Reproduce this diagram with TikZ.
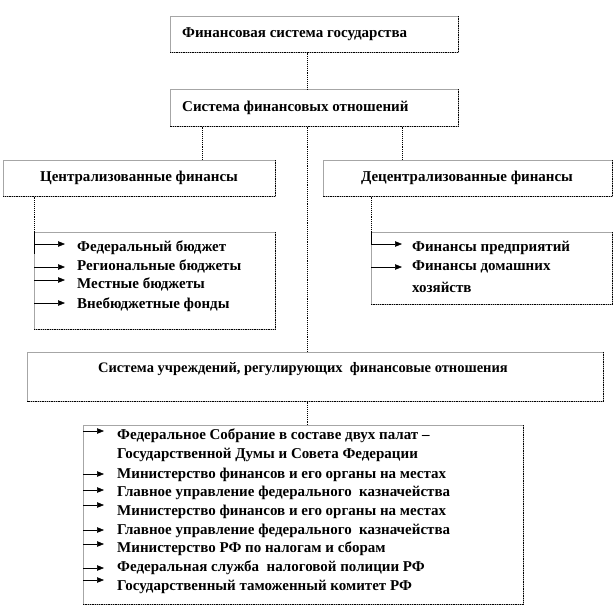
\documentclass[tikz,border=0pt]{standalone}
\usepackage{fontspec}
\setmainfont{Liberation Serif}
\usetikzlibrary{arrows.meta}
\begin{document}
\begin{tikzpicture}[x=1pt,y=-1pt,
  box/.style={draw=gray!70, line width=0.5pt, inner sep=0pt, anchor=north west},
  shadow/.style={line width=1.3pt, densely dotted},
  conn/.style={line width=0.9pt, densely dotted},
  arr/.style={line width=0.6pt, -{Triangle[length=7pt,width=5.5pt]}},
  lbl/.style={inner sep=0pt, font=\bfseries\fontsize{15}{18}\selectfont},
  txt/.style={lbl, anchor=west}]
\useasboundingbox (0,0) rectangle (614,616);
% boxes
\node[box, minimum width=288pt, minimum height=36pt] (top) at (170,16) {};
\node[box, minimum width=288pt, minimum height=37pt] (sys) at (170,89) {};
\node[box, minimum width=272pt, minimum height=36pt] (cent) at (3,160) {};
\node[box, minimum width=289pt, minimum height=36pt] (dec) at (323,160) {};
\node[box, minimum width=241pt, minimum height=97pt] (cl) at (34,232) {};
\node[box, minimum width=241pt, minimum height=72pt] (dl) at (371,232) {};
\node[box, minimum width=576pt, minimum height=49pt] (inst) at (27,352) {};
\node[box, minimum width=440pt, minimum height=179pt] (il) at (83,425) {};
\foreach \n in {top,sys,cent,dec,cl,dl,inst,il}
  \draw[shadow] (\n.north east) -- (\n.south east) -- (\n.south west);
\draw[line width=0.6pt] (cl.north west) -- ++(0,22);
\draw[line width=0.6pt] (dl.north west) -- ++(0,12);
% box texts
\node[txt] (topt) at (182,34) {Финансовая система государства};
\node[txt] (syst) at (182,108) {Система финансовых отношений};
\node[lbl] (centt) at (139,178) {Централизованные финансы};
\node[lbl] (dect) at (467,178) {Децентрализованные финансы};
\node[lbl, font=\bfseries\fontsize{14.5}{18}\selectfont] (instt) at (303,369) {Система учреждений, регулирующих~ финансовые отношения};
% connectors
\coordinate (xa) at (202,0);
\coordinate (xm) at (307,0);
\coordinate (xb) at (402,0);
\draw[conn] (top.south -| xm) -- (sys.north -| xm);
\draw[conn] (sys.south -| xa) -- (cent.north -| xa);
\draw[conn] (sys.south -| xb) -- (dec.north -| xb);
\draw[conn] (sys.south -| xm) -- (inst.north -| xm);
\draw[conn] (inst.south -| xm) -- (il.north -| xm);
\draw[conn] (cent.south -| cl.west) -- (cl.north west);
\draw[conn] (dec.south -| dl.west) -- (dl.north west);
% centralized list
\foreach \y in {244,267,280,303} \draw[arr] (cl.west |- 0,\y) -- ++(31,0);
\node[txt] (c1) at (77,248) {Федеральный бюджет};
\node[txt] (c2) at (77,266) {Региональные бюджеты};
\node[txt] (c3) at (77,284) {Местные бюджеты};
\node[txt] (c4) at (77,305) {Внебюджетные фонды};
% decentralized list
\foreach \y in {244,267} \draw[arr] (dl.west |- 0,\y) -- ++(31,0);
\node[txt] (d1) at (412,248) {Финансы предприятий};
\node[txt] (d2) at (412,267) {Финансы домашних};
\node[txt] (d3) at (412,287) {хозяйств};
% institutions list
\foreach \y in {431,474,490,505,530,544,568,580} \draw[arr] (il.west |- 0,\y) -- ++(21,0);
\node[txt] (i1) at (117,436) {Федеральное Собрание в составе двух палат –};
\node[txt] (i2) at (117,455) {Государственной Думы и Совета Федерации};
\node[txt] (i3) at (117,475) {Министерство финансов и его органы на местах};
\node[txt] (i4) at (117,493) {Главное управление федерального~ казначейства};
\node[txt] (i5) at (117,512) {Министерство финансов и его органы на местах};
\node[txt] (i6) at (117,531) {Главное управление федерального~ казначейства};
\node[txt] (i7) at (117,549) {Министерство РФ по налогам и сборам};
\node[txt] (i8) at (117,568) {Федеральная служба~ налоговой полиции РФ};
\node[txt] (i9) at (117,587) {Государственный таможенный комитет РФ};
\end{tikzpicture}
\end{document}
